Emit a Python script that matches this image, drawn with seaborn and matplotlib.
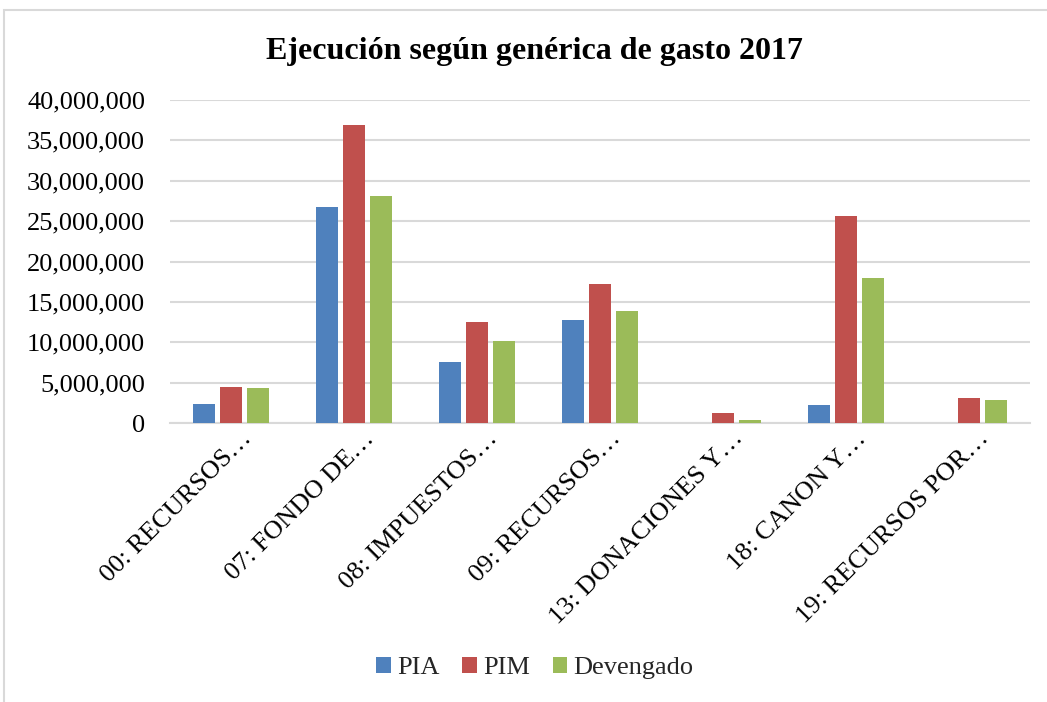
import matplotlib
matplotlib.use("Agg")
import matplotlib.pyplot as plt
import matplotlib.transforms as mtransforms
import seaborn as sns
import pandas as pd
from matplotlib.patches import Rectangle
from matplotlib.ticker import FuncFormatter, MultipleLocator

categories = ["00: RECURSOS…", "07: FONDO DE…", "08: IMPUESTOS…", "09: RECURSOS…",
              "13: DONACIONES Y…", "18: CANON Y…", "19: RECURSOS POR…"]
series_names = ["PIA", "PIM", "Devengado"]
pia = [2350000, 26700000, 7600000, 12750000, 0, 2200000, 0]
pim = [4400000, 36850000, 12500000, 17200000, 1280000, 25650000, 3060000]
devengado = [4300000, 28150000, 10200000, 13900000, 370000, 18000000, 2800000]
colors = ["#4F81BD", "#C0504D", "#9BBB59"]
title = "Ejecución según genérica de gasto 2017"

rows = []
for name, vals in zip(series_names, [pia, pim, devengado]):
    for c, v in zip(categories, vals):
        rows.append({"cat": c, "serie": name, "valor": v})
df = pd.DataFrame(rows)

sns.set_theme(style="white")
plt.rcParams["font.family"] = ["Liberation Serif", "DejaVu Serif"]

W, H = 1047, 702
fig = plt.figure(figsize=(W / 100, H / 100), dpi=100)
ax = fig.add_axes([170 / W, (H - 423) / H, (1030 - 170) / W, (423 - 100) / H])

sns.barplot(data=df, x="cat", y="valor", hue="serie", order=categories,
            hue_order=series_names, palette=colors, width=0.66, ax=ax,
            saturation=1, legend=False, zorder=3)

bw = 22 / 123
for p in ax.patches:
    cx = p.get_x() + p.get_width() / 2
    p.set_width(bw)
    p.set_x(cx - bw / 2)
    p.set_edgecolor("none")

ax.set_ylim(0, 40e6)
ax.set_xlim(-0.5, len(categories) - 0.5)
ax.yaxis.set_major_locator(MultipleLocator(5e6))
ax.yaxis.set_major_formatter(FuncFormatter(lambda v, _: f"{int(v):,}"))
ax.grid(axis="y", color="#D9D9D9", linewidth=1.5, zorder=0)
ax.grid(axis="x", visible=False)
for s in ["top", "right", "left"]:
    ax.spines[s].set_visible(False)
ax.spines["bottom"].set_color("#D9D9D9")
ax.spines["bottom"].set_linewidth(1.5)
ax.set_xlabel("")
ax.set_ylabel("")
ax.tick_params(axis="y", length=0, pad=18, labelsize=19, labelcolor="black")
ax.tick_params(axis="x", length=0, pad=8, labelsize=19, labelcolor="black")
ax.set_xticks(range(len(categories)))
ax.set_xticklabels(categories, rotation=45, ha="right", va="center",
                   rotation_mode="anchor")
offset = mtransforms.ScaledTranslation(17 / 100, -1 / 100, fig.dpi_scale_trans)
for lbl in ax.get_xticklabels():
    lbl.set_transform(lbl.get_transform() + offset)

fig.text(534 / W, 1 - 52 / H, title, ha="center", va="center",
         fontsize=23, fontweight="bold", color="black")

handles = [Rectangle((0, 0), 1, 1, facecolor=c, edgecolor="none") for c in colors]
fig.legend(handles, series_names, loc="center", bbox_to_anchor=(535 / W, 1 - 668 / H),
           ncol=3, frameon=False, fontsize=19, handlelength=0.55, handleheight=0.55,
           handletextpad=0.25, columnspacing=0.85)

fig.patches.append(Rectangle((4 / W, -0.1), 1.2, 1 - 10 / H + 0.1, transform=fig.transFigure,
                             fill=False, edgecolor="#D9D9D9", linewidth=1.5))

fig.savefig("out.png", dpi=100, facecolor="white")
